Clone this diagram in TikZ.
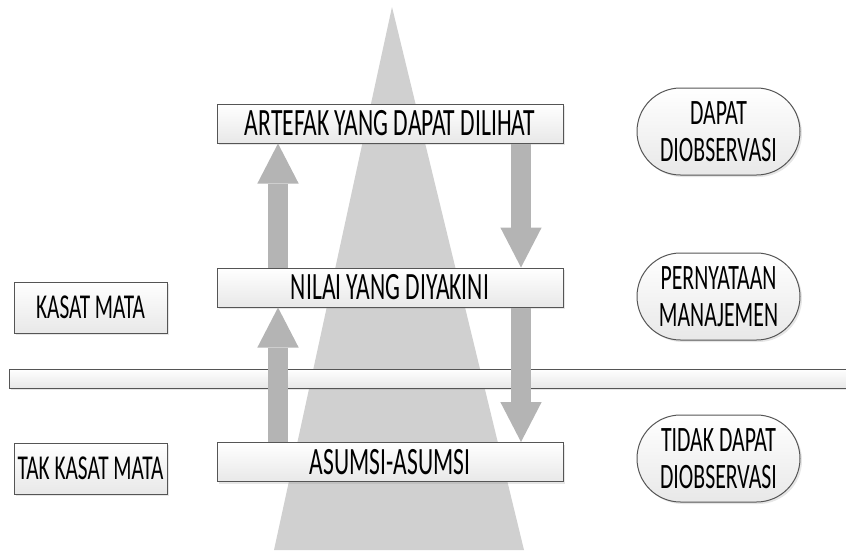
\documentclass[tikz,border=0pt]{standalone}
\usepackage{fontspec}
\setmainfont{Carlito}[FakeStretch=0.61]
\usetikzlibrary{arrows.meta}
\usetikzlibrary{shapes.misc}
\usetikzlibrary{shadows}
\definecolor{conegray}{RGB}{208,208,208}
\definecolor{arrowgray}{RGB}{180,180,180}
\definecolor{edgegray}{RGB}{85,85,85}
\tikzset{every picture/.style={line width=0.75pt}}
\tikzset{
  boxshade/.style={draw=edgegray, top color=white, bottom color=black!9, inner sep=0pt,
    drop shadow={shadow xshift=1.5pt, shadow yshift=-1.5pt, opacity=0.2}},
  layerbox/.style={boxshade, minimum width=259.5pt, minimum height=29.25pt,
    font=\fontsize{29}{31}\selectfont},
  sidebox/.style={boxshade, minimum width=114.75pt, minimum height=38.25pt,
    font=\fontsize{26.2}{29}\selectfont},
  notebox/.style={boxshade, rounded rectangle, minimum width=122.25pt, minimum height=65.25pt,
    align=center, font=\fontsize{26.8}{27.75}\selectfont},
  updown/.style={draw=arrowgray, line width=15.5pt,
    -{Triangle[length=30pt, width=31pt, line width=0pt]}},
}

\begin{document}
\begin{tikzpicture}[x=0.75pt,y=0.75pt,yscale=-1,xscale=1]
\useasboundingbox (0,0) rectangle (846,550);

%Shape: Triangle [cone]
\fill[conegray] (392,7) -- (274,550) -- (524,550) -- cycle;

%Shape: Rectangle [band]
\node[boxshade, minimum width=634.5pt, minimum height=14.25pt] (band) at (432,378.5) {};

% Layer boxes
\node[layerbox] (artefak) at (390,123.5) {ARTEFAK YANG DAPAT DILIHAT};
\node[layerbox] (nilai) at (390,287.5) {NILAI YANG DIYAKINI};
\node[layerbox] (asumsi) at (390,462) {ASUMSI-ASUMSI};

% Left boxes
\node[sidebox] (kasat) at (90.5,307.5) {KASAT MATA};
\node[sidebox] (takkasat) at (90.5,468.5) {TAK KASAT MATA};

% Right boxes
\node[notebox] (dapat) at (718.5,131.5) {DAPAT\\DIOBSERVASI};
\node[notebox] (pernyataan) at (718.5,296.5) {PERNYATAAN\\MANAJEMEN};
\node[notebox] (tidak) at (718.5,458.5) {TIDAK DAPAT\\DIOBSERVASI};

% Arrows
\coordinate (upcol) at (278,0);
\coordinate (downcol) at (521,0);
\draw[updown] (upcol |- asumsi.north) -- (upcol |- nilai.south);
\draw[updown] (upcol |- nilai.north) -- (upcol |- artefak.south);
\draw[updown] (downcol |- artefak.south) -- (downcol |- nilai.north);
\draw[updown] (downcol |- nilai.south) -- (downcol |- asumsi.north);
\end{tikzpicture}
\end{document}
